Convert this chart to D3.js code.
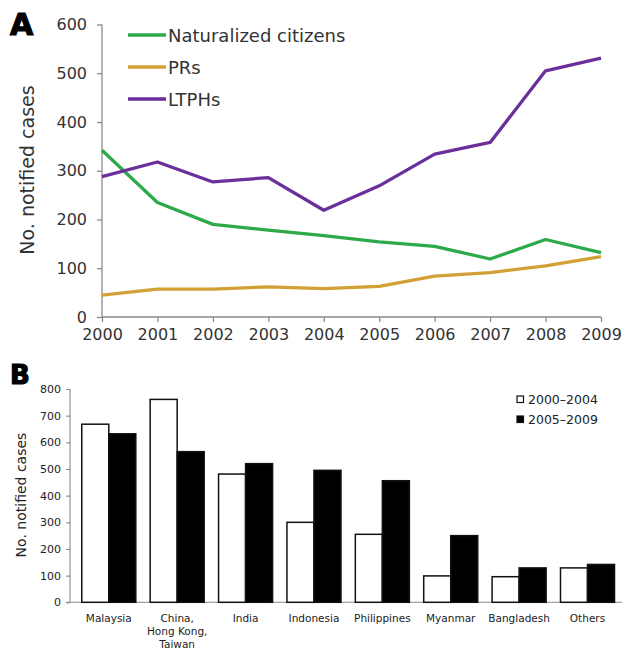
<!DOCTYPE html>
<html><head><meta charset="utf-8">
<script src="https://cdn.jsdelivr.net/npm/d3@7"></script>
<style>
body{margin:0;background:#fff;}
svg{display:block;}
text{font-family:"DejaVu Sans",sans-serif;}
</style></head>
<body><svg id="c" width="622" height="650"></svg>
<script>
// Panel A data
const years = [2000,2001,2002,2003,2004,2005,2006,2007,2008,2009];
const naturalized = [342,235,190,178,167,154,145,119,159,132];
const prs = [45,57,57,62,58,63,84,91,105,124];
const ltphs = [288,318,277,286,219,269,334,358,505,531];
const seriesNamesA = ["Naturalized citizens","PRs","LTPHs"];
const seriesColorsA = ["#2caa4a","#d3a035","#6a2f9a"];
const yTicksA = [0,100,200,300,400,500,600];

// Panel B data
const countries = ["Malaysia","China,\nHong Kong,\nTaiwan","India","Indonesia","Philippines","Myanmar","Bangladesh","Others"];
const period1 = [668,761,481,300,255,99,96,129];
const period2 = [632,565,520,495,456,250,129,142];
const periods = ["2000–2004","2005–2009"];
const yTicksB = [0,100,200,300,400,500,600,700,800];

const svg = d3.select("#c");
const axisCol = "#8a8a8a", textCol = "#333";

// ---------- Panel A ----------
const xA = d3.scaleLinear().domain([2000,2009]).range([102,601]);
const yA = d3.scaleLinear().domain([0,600]).range([317,24.5]);
const gA = svg.append("g");

const yAxA = gA.append("g").attr("transform","translate(102,0)")
  .call(d3.axisLeft(yA).tickValues(yTicksA).tickSize(5).tickPadding(10).tickFormat(d3.format("d")));
const xAxA = gA.append("g").attr("transform","translate(0,317)")
  .call(d3.axisBottom(xA).tickValues(years).tickSize(5).tickPadding(7).tickFormat(d3.format("d")));
[yAxA,xAxA].forEach(a=>{
  a.selectAll("path,line").attr("stroke",axisCol).attr("stroke-width",1.3);
  a.selectAll("text").attr("fill",textCol).style("font-size","16px");
});
yAxA.select(".domain").attr("d","M0,317V24.5");
xAxA.select(".domain").attr("d","M102,0H601");

gA.append("text").attr("transform","translate(34,170) rotate(-90)")
  .attr("text-anchor","middle").attr("fill",textCol).style("font-size","19px")
  .text("No. notified cases");

const dataA = [naturalized, prs, ltphs];
const line = d3.line().x((d,i)=>xA(years[i])).y(d=>yA(d));
dataA.forEach((s,k)=>{
  gA.append("path").datum(s).attr("d",line).attr("fill","none")
    .attr("stroke",seriesColorsA[k]).attr("stroke-width",3.3).attr("stroke-linejoin","round");
});

// legend A
const legA = gA.append("g");
seriesNamesA.forEach((n,k)=>{
  const y = 35 + k*32;
  legA.append("line").attr("x1",128).attr("x2",166).attr("y1",y).attr("y2",y)
    .attr("stroke",seriesColorsA[k]).attr("stroke-width",3.3);
  legA.append("text").attr("x",168).attr("y",y+6.5).attr("fill",textCol)
    .style("font-size","18px").text(n);
});

svg.append("text").attr("x",10).attr("y",34.5).style("font-size","30px")
  .style("font-weight","bold").attr("stroke","#000").attr("stroke-width",1.2).text("A");

// ---------- Panel B ----------
const xB = d3.scaleBand().domain(countries).range([74.6,621.7]).paddingInner(0.21).paddingOuter(0.105);
const xSub = d3.scaleBand().domain(periods).range([0,xB.bandwidth()]);
const yB = d3.scaleLinear().domain([0,800]).range([602.3,389]);
const gB = svg.append("g");

const yAxB = gB.append("g").attr("transform","translate(70,0)")
  .call(d3.axisLeft(yB).tickValues(yTicksB).tickSize(4).tickPadding(5).tickFormat(d3.format("d")));
yAxB.selectAll("path,line").attr("stroke",axisCol).attr("stroke-width",1.1);
yAxB.selectAll("text").attr("fill","#222").style("font-size","11px");
yAxB.select(".domain").attr("d","M0,602.3V389");

gB.append("line").attr("x1",66).attr("x2",622).attr("y1",yB(0)).attr("y2",yB(0))
  .attr("stroke",axisCol).attr("stroke-width",1.1);

gB.append("text").attr("transform","translate(26,495) rotate(-90)")
  .attr("text-anchor","middle").attr("fill","#222").style("font-size","14px")
  .text("No. notified cases");

const dataB = [period1, period2];
countries.forEach((c,i)=>{
  dataB.forEach((s,k)=>{
    const x0 = xB(c) + xSub(periods[k]);
    gB.append("rect").attr("x",x0).attr("y",yB(s[i]))
      .attr("width",xSub.bandwidth()).attr("height",yB(0)-yB(s[i]))
      .attr("fill",k===0?"#fff":"#000").attr("stroke","#111").attr("stroke-width",1.5);
  });
  const lines = c.split("\n");
  const t = gB.append("text").attr("text-anchor","middle").attr("fill","#222")
    .style("font-size","10.5px");
  lines.forEach((l,j)=>{
    t.append("tspan").attr("x",xB(c)+xB.bandwidth()/2).attr("y",622+j*13).text(l);
  });
});

// legend B
periods.forEach((p,k)=>{
  const y = 404 + k*20;
  gB.append("rect").attr("x",517).attr("y",y-8).attr("width",6.5).attr("height",6.5)
    .attr("fill",k===0?"#fff":"#000").attr("stroke","#111").attr("stroke-width",1.2);
  gB.append("text").attr("x",528).attr("y",y).attr("fill","#222")
    .style("font-size","12.5px").text(p);
});

svg.append("text").attr("x",10).attr("y",383.5).style("font-size","26px")
  .style("font-weight","bold").attr("stroke","#000").attr("stroke-width",1.2).text("B");
</script></body></html>
